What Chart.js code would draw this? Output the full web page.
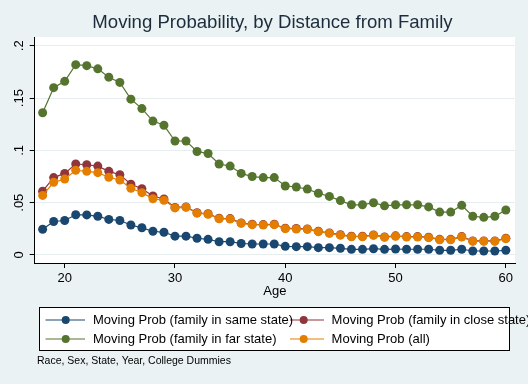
<!DOCTYPE html>
<html>
<head>
<meta charset="utf-8">
<script src="https://cdn.jsdelivr.net/npm/chart.js@4.4.1/dist/chart.umd.min.js"></script>
<style>
html,body{margin:0;padding:0;background:#eaf2f3;}
#wrap{width:528px;height:384px;position:relative;}
</style>
</head>
<body>
<div id="wrap"><canvas id="c" width="528" height="384"></canvas></div>
<script>
const ages = [18,19,20,21,22,23,24,25,26,27,28,29,30,31,32,33,34,35,36,37,38,39,40,41,42,43,44,45,46,47,48,49,50,51,52,53,54,55,56,57,58,59,60];
const sameState = [0.0246,0.032,0.033,0.0385,0.0383,0.037,0.034,0.033,0.0287,0.026,0.0227,0.0217,0.018,0.018,0.016,0.015,0.0127,0.0127,0.011,0.0105,0.0105,0.0105,0.0083,0.008,0.008,0.007,0.007,0.0064,0.0054,0.0054,0.006,0.0054,0.0057,0.0055,0.0055,0.0055,0.0045,0.0045,0.0055,0.0038,0.0038,0.0038,0.0045];
const closeState = [0.061,0.074,0.078,0.087,0.0863,0.085,0.080,0.0768,0.0676,0.0634,0.0564,0.0535,0.0455,0.046,0.0404,0.0394,0.0351,0.0348,0.0307,0.0294,0.0291,0.0294,0.0256,0.0253,0.0249,0.0227,0.0211,0.0194,0.0179,0.0179,0.0192,0.0173,0.0183,0.0176,0.0176,0.017,0.015,0.015,0.0176,0.0135,0.0135,0.0135,0.016];
const farState = [0.136,0.160,0.166,0.182,0.181,0.178,0.170,0.165,0.149,0.140,0.128,0.124,0.109,0.109,0.099,0.097,0.087,0.085,0.078,0.075,0.074,0.074,0.066,0.065,0.063,0.059,0.056,0.052,0.048,0.048,0.050,0.047,0.048,0.048,0.048,0.046,0.041,0.041,0.0475,0.037,0.036,0.037,0.043];
const allProb = [0.057,0.0695,0.0727,0.081,0.080,0.0787,0.0743,0.0717,0.0638,0.0596,0.0538,0.0523,0.045,0.0456,0.040,0.039,0.0347,0.0344,0.0303,0.029,0.0287,0.029,0.0252,0.0249,0.0245,0.0223,0.0207,0.019,0.0175,0.0175,0.0188,0.0169,0.0179,0.0172,0.0172,0.0166,0.0146,0.0146,0.0172,0.0131,0.0131,0.0131,0.0156];
const seriesNames = ["Moving Prob (family in same state)","Moving Prob (family in close state)","Moving Prob (family in far state)","Moving Prob (all)"];
const xTicks = [20,30,40,50,60];
const yTicks = [0,0.05,0.1,0.15,0.2];
const yTickLabels = ["0",".05",".1",".15",".2"];
const chartTitle = "Moving Probability, by Distance from Family";
const xTitle = "Age";
const noteText = "Race, Sex, State, Year, College Dummies";

const FONT = "'Liberation Sans', Arial, sans-serif";
const colors = ['#1a476f','#90353b','#55752f','#e37e00'];

function pts(arr){ return ages.map((a,i)=>({x:a,y:arr[i]})); }

const bgPlugin = {
  id:'bg',
  beforeDraw(chart){
    const {ctx, chartArea:a} = chart;
    ctx.save();
    ctx.fillStyle='#eaf2f3';
    ctx.fillRect(0,0,chart.width,chart.height);
    ctx.fillStyle='#ffffff';
    ctx.fillRect(a.left,a.top,a.right-a.left,a.bottom-a.top);
    ctx.restore();
  }
};

const decoPlugin = {
  id:'deco',
  afterDraw(chart){
    const ctx = chart.ctx;
    const ys = chart.scales.y;
    ctx.save();
    ctx.fillStyle='#000';
    ctx.font = '13px ' + FONT;
    ctx.textAlign='center';
    ctx.textBaseline='middle';
    yTicks.forEach((v,i)=>{
      const py = ys.getPixelForValue(v);
      ctx.save();
      ctx.translate(19, py);
      ctx.rotate(-Math.PI/2);
      ctx.fillText(yTickLabels[i],0,0);
      ctx.restore();
    });
    const bx=39.5, by=307.5, bw=470, bh=43;
    ctx.fillStyle='#ffffff';
    ctx.fillRect(bx,by,bw,bh);
    ctx.strokeStyle='#000';
    ctx.lineWidth=1;
    ctx.strokeRect(bx,by,bw,bh);
    const items = [
      {i:0, lx0:45.5, lx1:85, mx:65.7, tx:93, y:320},
      {i:1, lx0:290, lx1:324, mx:303.7, tx:331.6, y:320},
      {i:2, lx0:45.5, lx1:85, mx:65.7, tx:93, y:339},
      {i:3, lx0:290, lx1:324, mx:303.7, tx:331.6, y:339}
    ];
    items.forEach(it=>{
      ctx.strokeStyle=colors[it.i];
      ctx.lineWidth=1.2;
      ctx.beginPath();
      ctx.moveTo(it.lx0,it.y); ctx.lineTo(it.lx1,it.y); ctx.stroke();
      ctx.fillStyle=colors[it.i];
      ctx.beginPath(); ctx.arc(it.mx,it.y,4,0,Math.PI*2); ctx.fill();
    });
    ctx.fillStyle='#000';
    ctx.font='13px ' + FONT;
    ctx.textAlign='left';
    ctx.textBaseline='middle';
    items.forEach(it=>{ ctx.fillText(seriesNames[it.i], it.tx, it.y+0.5); });
    ctx.font='10.5px ' + FONT;
    ctx.fillText(noteText, 37, 361.5);
    ctx.restore();
  }
};

function ds(label, arr, col, order){
  return {label, data:pts(arr), borderColor:col, backgroundColor:col, pointBackgroundColor:col,
    pointBorderColor:col, borderWidth:1.2, pointRadius:4.5, pointHoverRadius:4.5, pointBorderWidth:0,
    tension:0, order};
}

new Chart(document.getElementById('c'), {
  type:'line',
  data:{datasets:[
    ds(seriesNames[0], sameState, colors[0], 3),
    ds(seriesNames[1], closeState, colors[1], 2),
    ds(seriesNames[2], farState, colors[2], 1),
    ds(seriesNames[3], allProb, colors[3], 0)
  ]},
  plugins:[bgPlugin, decoPlugin],
  options:{
    responsive:false,
    animation:false,
    devicePixelRatio:1,
    layout:{padding:{left:30, right:13, top:0, bottom:84.5}},
    plugins:{
      legend:{display:false},
      tooltip:{enabled:false},
      title:{display:true, text:chartTitle, color:'#1c2c3c',
        font:{family:FONT, size:18.6, weight:'normal', lineHeight:1.2},
        padding:{top:11.5, bottom:3.2}}
    },
    scales:{
      x:{type:'linear', min:17.28, max:60.83,
        afterBuildTicks(s){ s.ticks = xTicks.map(v=>({value:v})); },
        afterFit(s){ s.height = 36.5; },
        ticks:{color:'#000', font:{family:FONT, size:13}, padding:3, maxRotation:0, autoSkip:false,
          callback:(v)=>String(v)},
        grid:{drawOnChartArea:false, drawTicks:true, tickLength:5, tickColor:'#000', color:'#000'},
        border:{display:true, color:'#000', width:1},
        title:{display:true, text:xTitle, color:'#000', font:{family:FONT, size:13}, padding:0}
      },
      y:{type:'linear', min:-0.00765, max:0.2084,
        afterBuildTicks(s){ s.ticks = yTicks.map(v=>({value:v})); },
        afterFit(s){ s.width = 4.7; },
        ticks:{display:false},
        grid:{drawOnChartArea:true, drawTicks:true, tickLength:5, tickColor:'#000', color:'#e6eef0', lineWidth:1},
        border:{display:true, color:'#000', width:1}
      }
    }
  }
});
</script>
</body>
</html>
